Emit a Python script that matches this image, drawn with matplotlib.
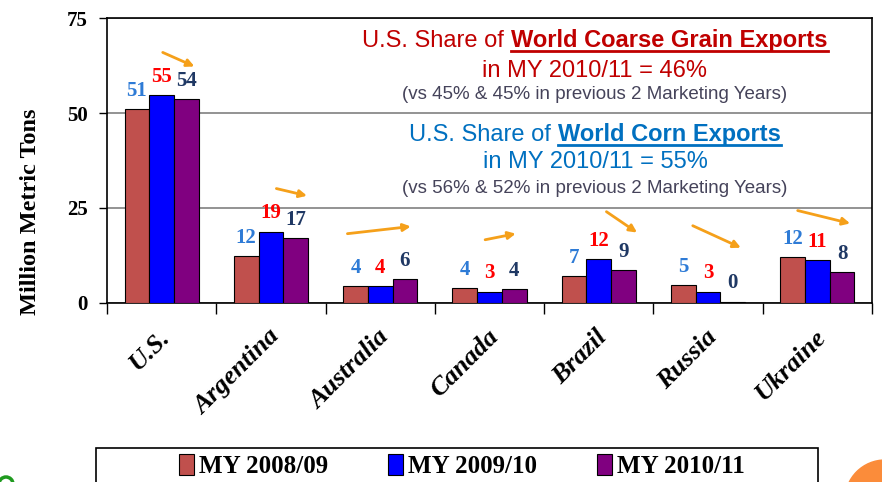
"""
U.S. share of world coarse grain / corn exports, grouped bar chart.
"""

import matplotlib
matplotlib.use("Agg")
import matplotlib.pyplot as plt
import numpy as np
from matplotlib.patches import Rectangle, Ellipse
from matplotlib.transforms import ScaledTranslation

countries = ["U.S.", "Argentina", "Australia", "Canada", "Brazil", "Russia", "Ukraine"]
my_2008 = [51.0, 12.3, 4.4, 3.8, 7.0, 4.7, 12.0]
my_2009 = [54.7, 18.7, 4.4, 2.9, 11.5, 2.9, 11.3]
my_2010 = [53.6, 17.0, 6.2, 3.5, 8.5, 0.3, 8.0]
series_names = ["MY 2008/09", "MY 2009/10", "MY 2010/11"]
yticks = [0, 25, 50, 75]

# arrow start/end (category units, million tons)
arrows = [
    ((0.01, 66.0), (0.30, 62.3)),
    ((1.05, 30.1), (1.33, 28.2)),
    ((1.70, 18.2), (2.28, 20.1)),
    ((2.96, 16.6), (3.24, 18.2)),
    ((4.07, 24.0), (4.35, 18.5)),
    ((4.86, 20.3), (5.30, 14.5)),
    ((5.82, 24.3), (6.30, 20.9)),
]

bar_colors = ["#c0504d", "#0000ff", "#800080"]
label_colors = ["#2e7bd6", "#ff0000", "#1f3864"]
serif = "Liberation Serif"
sans = "Liberation Sans"

W, H = 882, 482
fig = plt.figure(figsize=(W / 100, H / 100), dpi=100)
ax = fig.add_axes([107 / W, 1 - 302.7 / H, 765 / W, 284.4 / H])

x = np.arange(len(countries))
bw = 0.226
for k, vals in enumerate([my_2008, my_2009, my_2010]):
    bars = ax.bar(x + (k - 1) * bw, vals, bw, color=bar_colors[k],
                  edgecolor="black", linewidth=0.8, label=series_names[k], zorder=3)
    for b, v in zip(bars, vals):
        ax.annotate(str(int(v + 0.5)), (b.get_x() + bw / 2, v), xytext=(0, 6),
                    textcoords="offset points", ha="center", va="bottom",
                    color=label_colors[k], fontsize=15, fontweight="bold",
                    family=serif, zorder=4)

for (x0, y0), (x1, y1) in arrows:
    ax.annotate("", xy=(x1, y1), xytext=(x0, y0),
                arrowprops=dict(arrowstyle="-|>", color="#f5a01a", lw=2,
                                mutation_scale=11, shrinkA=0, shrinkB=0))

ax.set_xlim(-0.5, len(countries) - 0.5)
ax.set_ylim(0, 75)
ax.set_yticks(yticks)
ax.set_yticklabels([str(t) for t in yticks], fontsize=15, fontweight="bold", family=serif)
ax.tick_params(axis="y", length=6, width=1, pad=8)
ax.yaxis.grid(True, color="#808080", linewidth=1.2, zorder=0)
ax.set_axisbelow(True)

ax.set_xticks(x)
ax.set_xticks(np.arange(len(countries) + 1) - 0.5, minor=True)
ax.tick_params(axis="x", which="major", length=0, pad=22)
ax.tick_params(axis="x", which="minor", length=8, width=1)
ax.set_xticklabels(countries, rotation=45, ha="right", va="center",
                   rotation_mode="anchor", fontsize=19, fontweight="bold",
                   fontstyle="italic", family=serif)
for lab in ax.get_xticklabels():
    lab.set_transform(lab.get_transform() + ScaledTranslation(5 / 100, 0, fig.dpi_scale_trans))

for s in ax.spines.values():
    s.set_color("black")
    s.set_linewidth(1.2)

fig.text(30 / W, 1 - 212 / H, "Million Metric Tons", rotation=90, ha="center",
         va="center", fontsize=17.5, fontweight="bold", family=serif)

# annotation text blocks
renderer = fig.canvas.get_renderer()


def mixed_line(cx, base_y, plain, bold, color):
    t1 = fig.text(0, 1 - base_y / H, plain, fontsize=17, color=color, family=sans, va="baseline")
    t2 = fig.text(0, 1 - base_y / H, bold, fontsize=17, color=color, family=sans,
                  fontweight="bold", va="baseline")
    w1 = t1.get_window_extent(renderer).width
    w2 = t2.get_window_extent(renderer).width
    left = cx - (w1 + w2) / 2
    t1.set_x(left / W)
    t2.set_x((left + w1) / W)
    fig.add_artist(plt.Line2D([(left + w1) / W, (left + w1 + w2) / W],
                              [1 - (base_y + 4) / H] * 2, color=color, lw=2,
                              transform=fig.transFigure))


cx = 595
mixed_line(cx, 47, "U.S. Share of ", "World Coarse Grain Exports", "#c00000")
fig.text(cx / W, 1 - 77 / H, "in MY 2010/11 = 46%", fontsize=17, color="#c00000",
         family=sans, ha="center", va="baseline")
fig.text(cx / W, 1 - 99 / H, "(vs 45% & 45% in previous 2 Marketing Years)", fontsize=13.5,
         color="#45435a", family=sans, ha="center", va="baseline")

mixed_line(cx, 141, "U.S. Share of ", "World Corn Exports", "#0070c0")
fig.text(cx / W, 1 - 168 / H, "in MY 2010/11 = 55%", fontsize=17, color="#0070c0",
         family=sans, ha="center", va="baseline")
fig.text(cx / W, 1 - 193 / H, "(vs 56% & 52% in previous 2 Marketing Years)", fontsize=13.5,
         color="#45435a", family=sans, ha="center", va="baseline")

# legend with its own box
fig.add_artist(Rectangle((96 / W, -0.05), (818 - 96) / W, 0.05 + (482 - 448) / H,
                         transform=fig.transFigure, facecolor="white",
                         edgecolor="black", linewidth=1.2))
handles, labels = ax.get_legend_handles_labels()
fig.legend(handles, labels, loc="center", bbox_to_anchor=(462 / W, 1 - 466 / H),
           ncol=3, frameon=False, handlelength=0.6, handleheight=0.9,
           handletextpad=0.2, columnspacing=2.4,
           prop={"family": serif, "weight": "bold", "size": 18})

# slide decorations
fig.add_artist(Ellipse((885 / W, 1 - 500 / H), 80 / W, 80 / H,
                       transform=fig.transFigure, color="#fb8c3a"))
fig.add_artist(Ellipse((6 / W, 1 - 484 / H), 14 / W, 14 / H, transform=fig.transFigure,
                       facecolor="none", edgecolor="#1f9a1f", linewidth=2.5))

fig.savefig("out.png", dpi=100)
